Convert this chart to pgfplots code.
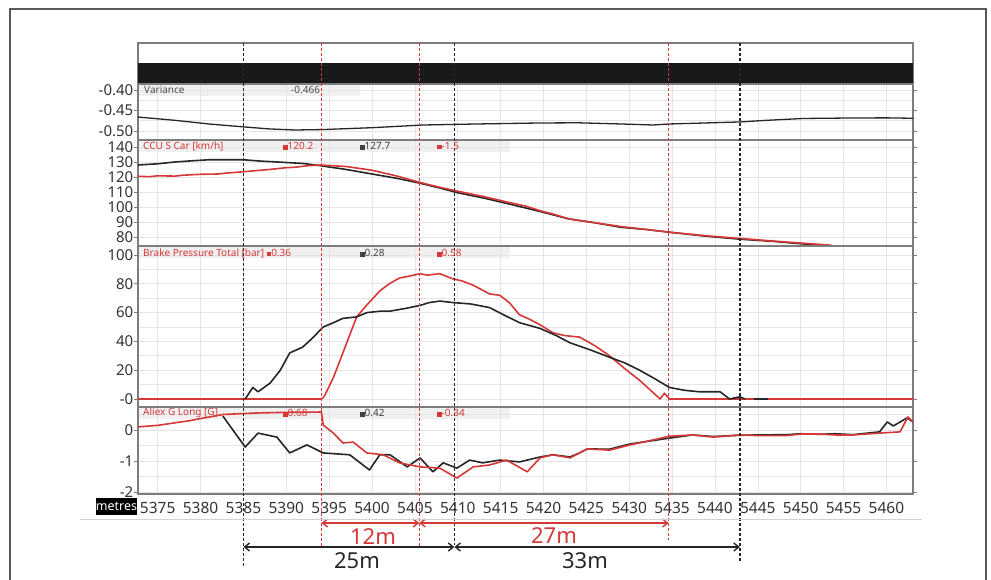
\documentclass[border=0pt]{standalone}
\usepackage{fontspec}
\setmainfont{Noto Sans}
\usepackage{pgfplots}
\pgfplotsset{compat=1.18}
\usetikzlibrary{arrows.meta}
\definecolor{myred}{RGB}{214,56,56}
\definecolor{myblk}{RGB}{38,38,38}
\definecolor{frm}{RGB}{125,125,125}

\pgfplotsset{panel/.style={
  scale only axis, width=775pt, xmin=5372.7, xmax=5463.1,
  xtick={5375,5380,...,5460}, xticklabels={}, xtick style={draw=none},
  grid=both, major grid style={gray!20, line width=0.6pt}, minor grid style={gray!20, line width=0.6pt},
  axis line style={frm, line width=1.4pt},
  ytick style={frm, line width=0.8pt}, major tick length=4pt, minor tick length=0pt, tick align=outside,
  yticklabel style={font=\fontsize{15}{15}\selectfont, text=black!80, inner sep=0.5pt},
  /pgf/number format/assume math mode=true,
  anchor=south west,
  every axis plot/.append style={line width=1.6pt, line join=round},
}}

\begin{document}
\begin{tikzpicture}[x=1pt,y=1pt]
\useasboundingbox (0,0) rectangle (991,579);
% outer frame
\draw[gray!70!black, line width=1.8pt] (10,-5) -- (10,570) -- (986,570) -- (986,-5);
% header strips
\fill[gray!12] (139,483) rectangle (360,494);
\fill[gray!12] (139,427) rectangle (510,438);
\fill[gray!12] (139,321) rectangle (510,332);
\fill[gray!12] (139,160) rectangle (510,171);
% top strip and black bar
\draw[frm, line width=1.4pt] (138,439) -- (138,536) -- (913,536) -- (913,439);
\fill[black!90] (138,496) rectangle (913,516);

% ---------- Variance ----------
\begin{axis}[panel, at={(138pt,439pt)}, height=56pt, ymin=-0.522, ymax=-0.3854,
  ytick={-0.5,-0.45,-0.4}, yticklabels={-0.50,-0.45,-0.40}, minor ytick={-0.475,-0.425}]
\addplot[myblk, line width=1.3pt] coordinates {
(5372.7,-0.466) (5377,-0.474) (5381,-0.483) (5385,-0.490) (5388,-0.495) (5391,-0.4976)
(5394.3,-0.4965) (5400,-0.492) (5406,-0.4854) (5412,-0.483) (5419.6,-0.4805) (5424,-0.480)
(5429,-0.4829) (5432.8,-0.4854) (5434.7,-0.4829) (5438,-0.481) (5442.9,-0.478)
(5446,-0.474) (5450.3,-0.4695) (5456,-0.4683) (5460,-0.4680) (5463.1,-0.4690)};
\end{axis}

% ---------- Speed ----------
\begin{axis}[panel, at={(138pt,333pt)}, height=106pt, ymin=74, ymax=144.67,
  ytick={80,90,...,140}]
\addplot[myblk] coordinates {
(5372.7,128) (5375,128.8) (5377,130) (5379,130.8) (5381,131.5) (5385,131.5) (5387,130.6)
(5389,130) (5392,129) (5394,127.5) (5397,125) (5400,122) (5403,119) (5405.5,116)
(5408,112.5) (5410,109.5) (5413,106) (5416,102) (5419.6,97) (5423,92) (5426,89.5)
(5429,86.5) (5432,85) (5435,83) (5439,80.5) (5443,78.5) (5447,77) (5450,75.5) (5451.8,74.8)};
\addplot[myred] coordinates {
(5372.7,120.5) (5374,120.2) (5375,120.8) (5377,120.6) (5378,121.2) (5380,121.8) (5382,122) (5383,122.6)
(5385,123.5) (5388,125) (5390,126.2) (5391,126.5) (5392.5,127.5) (5394,128) (5397,127) (5400,124.5)
(5403,120.5) (5405.5,116.5) (5408,113) (5410,110.5) (5413,107) (5416,103) (5418,100.5) (5419.6,97.5)
(5421,95.5) (5423,92) (5426,89.5) (5429,87) (5432,85) (5435,83) (5439,80.8) (5443,79) (5447,77.2)
(5450,76) (5453.6,74.5)};
\end{axis}

% ---------- Brake ----------
\begin{axis}[panel, at={(138pt,172pt)}, height=161pt, ymin=-5.56, ymax=106.25,
  ytick={0,20,...,100}, yticklabels={-0,20,40,60,80,100}, minor ytick={10,30,50,70,90}]
\addplot[myred] coordinates {
(5372.7,0) (5394.1,0) (5394.4,1.5) (5395.5,15) (5396.6,32) (5398.2,57) (5399.5,66)
(5400.9,75) (5402,80) (5403.2,84) (5404.5,85.5) (5405.6,87) (5406.4,86) (5407.9,87)
(5409.4,83.5) (5410.5,82) (5411.8,79) (5413.7,73) (5414.9,72) (5416,67) (5417.2,58.5)
(5418.5,55) (5419.6,51.5) (5421.1,46) (5422.5,44) (5424.2,43) (5426,37) (5427.7,30)
(5429.5,21) (5431.2,13) (5432.5,6) (5433.6,0) (5434.1,4) (5434.7,0) (5463.1,0)};
\addplot[myblk] coordinates {
(5385.2,0) (5386.1,8) (5386.7,5) (5388.1,11) (5389.3,20) (5390.4,32) (5391.9,36)
(5393,42) (5394.3,50) (5395.5,53) (5396.6,56) (5398.2,57) (5399.4,60) (5401,61)
(5402.1,61) (5404,63) (5405.6,65) (5406.7,67) (5407.9,68) (5409.4,67) (5411.5,66)
(5413.7,63.5) (5415.5,58) (5417.2,53) (5419.6,49) (5421.5,44) (5423.1,39) (5425.5,34)
(5427.7,29) (5429.5,25) (5431.2,20) (5433,14) (5434.7,8) (5436.5,6) (5438.2,5)
(5440.6,5) (5441.7,0) (5442.9,1.5) (5443.5,0)};
\addplot[myblk] coordinates {(5444.5,0) (5446.2,0)};
\end{axis}

% ---------- G long ----------
\begin{axis}[panel, at={(138pt,85pt)}, height=87pt, ymin=-2.065, ymax=0.742,
  ytick={-2,-1,0}, minor ytick={-1.5,-0.5,0.5},
  xticklabels={5375,5380,5385,5390,5395,5400,5405,5410,5415,5420,5425,5430,5435,5440,5445,5450,5455,5460},
  xticklabel style={font=\fontsize{15.5}{15.5}\selectfont, text=black!80, anchor=base, yshift=-15pt}]
\addplot[myblk] coordinates {
(5382.6,0.45) (5385.2,-0.55) (5386.7,-0.1) (5388.9,-0.23) (5390.4,-0.74) (5392.4,-0.48)
(5394.3,-0.74) (5397.4,-0.8) (5399.7,-1.29) (5400.9,-0.8) (5402.1,-0.8) (5404.1,-1.19)
(5405.6,-0.9) (5407.1,-1.35) (5408.3,-1.06) (5409.9,-1.23) (5411.4,-0.97) (5412.9,-1.06)
(5414.9,-0.97) (5417.2,-1.03) (5419.6,-0.87) (5421.1,-0.8) (5423.1,-0.87) (5424.2,-0.74)
(5425.1,-0.61) (5427.7,-0.62) (5430.1,-0.45) (5432.8,-0.34) (5434.7,-0.26) (5437.4,-0.16)
(5439.8,-0.21) (5442.9,-0.17) (5445,-0.16) (5448.4,-0.15) (5450,-0.12) (5452.2,-0.14)
(5454,-0.12) (5456.1,-0.15) (5459.2,-0.06) (5460.1,0.26) (5460.8,0.13) (5462.4,0.39) (5463.1,0.26)};
\addplot[myred] coordinates {
(5372.7,0.1) (5375,0.15) (5378.7,0.3) (5382.6,0.5) (5386.6,0.55) (5390,0.57) (5394.1,0.58)
(5394.3,0.16) (5395.5,-0.1) (5396.6,-0.42) (5397.8,-0.39) (5399.4,-0.74) (5401.3,-0.8)
(5403.2,-1.06) (5405.6,-1.19) (5407.9,-1.23) (5409.9,-1.55) (5411.8,-1.19) (5413.7,-1.13)
(5415.7,-0.97) (5418.1,-1.35) (5419.6,-0.9) (5421.1,-0.8) (5423.1,-0.9) (5424.2,-0.74)
(5425.1,-0.61) (5427.7,-0.65) (5430.1,-0.48) (5432.8,-0.32) (5434.7,-0.2) (5437.4,-0.16)
(5439.8,-0.23) (5442.9,-0.16) (5445,-0.18) (5448.4,-0.18) (5450,-0.13) (5452.2,-0.13)
(5454,-0.16) (5456.1,-0.16) (5459.2,-0.1) (5461.6,-0.06) (5462.5,0.42) (5463.1,0.26)};
\end{axis}

% ---------- overlay: cursors and annotations ----------
\begin{axis}[scale only axis, width=775pt, height=579pt, at={(138pt,0pt)}, anchor=south west,
  xmin=5372.7, xmax=5463.1, ymin=0, ymax=579, y dir=reverse, hide axis, clip=false]
\addplot[myblk, line width=1.4pt, dash pattern=on 3pt off 2pt] coordinates {(5385.0,43) (5385.0,567)};
\addplot[myblk, line width=1.4pt, dash pattern=on 3pt off 2pt] coordinates {(5409.6,43) (5409.6,545)};
\addplot[myblk, line width=1.4pt, dash pattern=on 3pt off 2pt] coordinates {(5442.9,43) (5442.9,562)};
\addplot[myred, line width=1.3pt, dash pattern=on 3pt off 2pt] coordinates {(5394.1,43) (5394.1,547)};
\addplot[myred, line width=1.3pt, dash pattern=on 3pt off 2pt] coordinates {(5405.5,43) (5405.5,547)};
\addplot[myred, line width=1.3pt, dash pattern=on 3pt off 2pt] coordinates {(5434.6,43) (5434.6,540)};
\draw[myred, line width=1.4pt, {Straight Barb[length=5pt,width=8pt]}-{Straight Barb[length=5pt,width=8pt]}]
  (axis cs:5394.1,523) -- (axis cs:5405.5,523);
\draw[myred, line width=1.4pt, {Straight Barb[length=5pt,width=8pt]}-{Straight Barb[length=5pt,width=8pt]}]
  (axis cs:5405.5,523) -- (axis cs:5434.6,523);
\draw[myblk, line width=1.4pt, {Straight Barb[length=5pt,width=8pt]}-{Straight Barb[length=5pt,width=8pt]}]
  (axis cs:5385.0,547) -- (axis cs:5409.6,547);
\draw[myblk, line width=1.4pt, {Straight Barb[length=5pt,width=8pt]}-{Straight Barb[length=5pt,width=8pt]}]
  (axis cs:5409.6,547) -- (axis cs:5442.9,547);
\end{axis}

% annotation texts (pixel positions)
\node[text=myred, font=\fontsize{22}{22}\selectfont, inner sep=0] at (373,42) {12m};
\node[text=myred, font=\fontsize{22}{22}\selectfont, inner sep=0] at (554,43) {27m};
\node[text=black!85, font=\fontsize{22}{22}\selectfont, inner sep=0] at (357,18) {25m};
\node[text=black!85, font=\fontsize{22}{22}\selectfont, inner sep=0] at (585,18) {33m};

% header texts
\begin{scope}[every node/.style={anchor=west, inner sep=0, font=\fontsize{10}{10}\selectfont}]
\node[text=black!70] at (144,489) {Variance};
\node[text=black!70] at (291,489) {-0.466};
\node[text=myred] at (143,433) {CCU S Car [km/h]};
\node[text=myred] at (283,433) {\rule{4.5pt}{4.5pt}120.2};
\node[text=black!75] at (360,433) {\rule{4.5pt}{4.5pt}127.7};
\node[text=myred] at (437,433) {\rule{4.5pt}{4.5pt}-1.5};
\node[text=myred] at (143,326) {Brake Pressure Total [bar] \rule{4.5pt}{4.5pt}0.36};
\node[text=black!75] at (360,326) {\rule{4.5pt}{4.5pt}0.28};
\node[text=myred] at (437,326) {\rule{4.5pt}{4.5pt}0.58};
\node[text=myred] at (143,166) {Aliex G Long [G]};
\node[text=myred] at (283,166) {\rule{4.5pt}{4.5pt}0.68};
\node[text=black!75] at (360,166) {\rule{4.5pt}{4.5pt}0.42};
\node[text=myred] at (437,166) {\rule{4.5pt}{4.5pt}-0.34};
\end{scope}

% metres label and separator
\draw[gray!35, line width=1pt] (80,60) -- (922,60);
\node[fill=black, text=white, inner sep=0, minimum width=41pt, minimum height=17pt,
  font=\fontsize{12.5}{12.5}\selectfont] at (116.5,72.5) {metres};
\end{tikzpicture}
\end{document}
